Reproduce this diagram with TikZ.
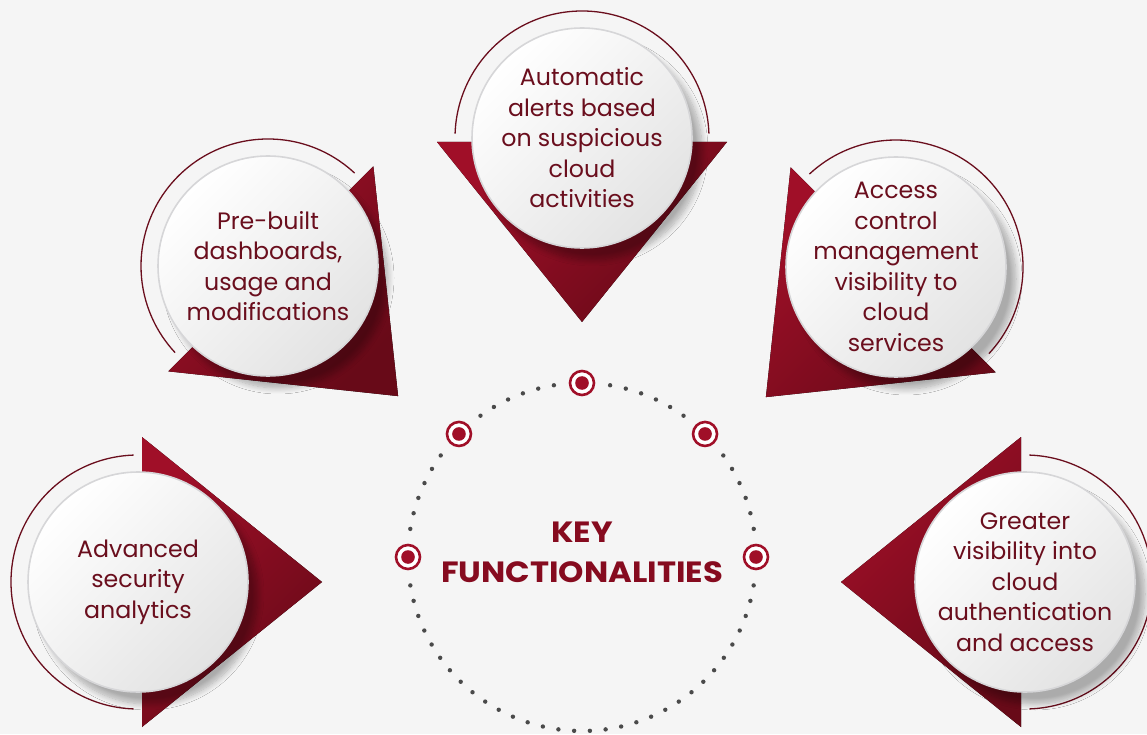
\documentclass[tikz,border=0pt]{standalone}
\usepackage{fontspec}
\setmainfont{Poppins}
\newfontfamily\headfont{Poppins}[FakeStretch=1.1]
\usetikzlibrary{calc,shadows.blur}

\definecolor{bg}{HTML}{F5F5F5}
\definecolor{wine}{HTML}{A00F28}
\definecolor{winedark}{HTML}{680A18}
\definecolor{inkred}{HTML}{6A0E1D}
\definecolor{headred}{HTML}{860B1F}
\definecolor{rim}{HTML}{D6D6D8}
\definecolor{dotgray}{HTML}{4A4A4A}

\tikzset{
  disc/.style={circle, minimum size=220pt, inner sep=0pt, draw=rim, line width=1.6pt,
    top color=white, bottom color=black!11, shading angle=45,
    blur shadow={shadow xshift=10pt, shadow yshift=-12pt, shadow blur steps=10,
      shadow blur radius=6pt, shadow opacity=30}},
  caption/.style={text=inkred, align=center, font=\fontsize{23.7}{30.5}\selectfont},
  wedge/.style={top color=wine, bottom color=winedark, shading angle=45},
  rimarc/.style={draw=inkred, line width=1.3pt},
  marker/.style={circle, minimum size=24pt, inner sep=0pt, draw=wine, line width=2.6pt, fill=white,
    path picture={\fill[wine] (path picture bounding box.center) circle (6.8pt);}},
  ringdot/.style={fill=dotgray},
  headline/.style={text=headred, align=center, font=\headfont\bfseries\fontsize{29.3}{40}\selectfont}
}

% one feature: name, centre, pointing direction, text
\newcommand\featureunit[4]{%
  \coordinate (#1c) at #2;
  \fill[wedge] ($(#1c)+(#3:4)+(#3+90:145)$) -- ($(#1c)+(#3:184)$)
     -- ($(#1c)+(#3:4)+(#3-90:145)$) -- cycle;
  \draw[rimarc] ($(#1c)+(#3+92:127)$) arc[start angle=#3+92, end angle=#3+268, radius=127];
  \node[disc] (#1) at (#1c) {};
  \node[caption] (#1t) at (#1c) {#4};
}

\begin{document}
\begin{tikzpicture}[x=1pt,y=1pt]
  \fill[bg] (0,0) rectangle (1147,734);
  \useasboundingbox (0,0) rectangle (1147,734);

  % dotted ring with its markers
  \coordinate (hub) at (582,177);
  \foreach \m in {0,45,90,135}
    \foreach \k in {0,...,5}
      \fill[ringdot] ($(hub)+({\m+9.3+\k*5.28}:174)$) circle (2.2);
  \foreach \k in {0,...,31}
    \fill[ringdot] ($(hub)+({189.4+\k*5.2}:174)$) circle (2.2);
  \foreach \m/\n in {0/mr,45/mur,90/mt,135/mul,180/ml}
    \node[marker] (\n) at ($(hub)+(\m:174)$) {};

  \node[headline] (title) at (582,182) {KEY\\FUNCTIONALITIES};

  % feature units
  \featureunit{alerts}{(582,596)}{270}{Automatic\\alerts based\\on suspicious\\cloud\\activities}
  \featureunit{dash}{(268,468)}{-45}{Pre-built\\dashboards,\\usage and\\modifications}
  \featureunit{access}{(896,467)}{225}{Access\\control\\management\\visibility to\\cloud\\services}
  \featureunit{analytics}{(138,152)}{0}{Advanced\\security\\analytics}
  \featureunit{auth}{(1025,152)}{180}{Greater\\visibility into\\cloud\\authentication\\and access}
\end{tikzpicture}
\end{document}
